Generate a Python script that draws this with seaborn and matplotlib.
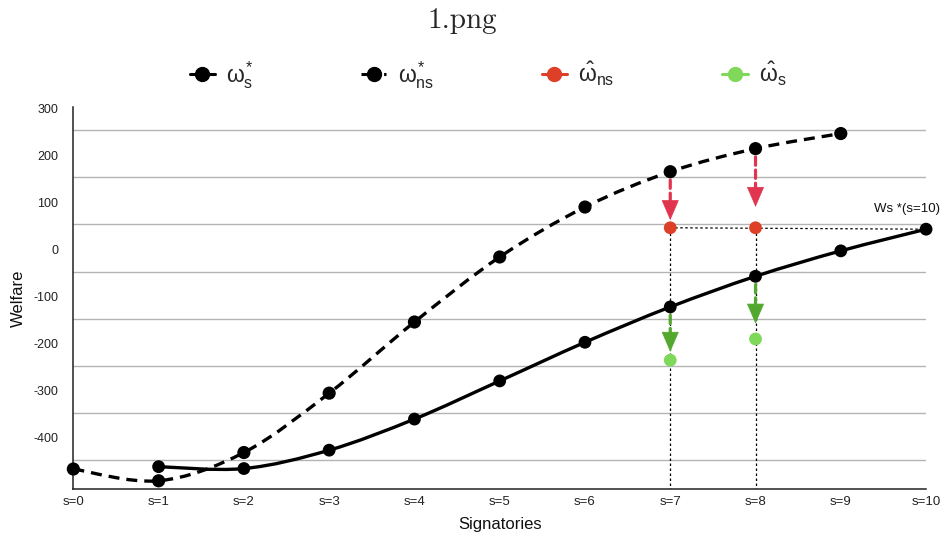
import numpy as np
import matplotlib
matplotlib.use("Agg")
import matplotlib.pyplot as plt
import seaborn as sns
from matplotlib.path import Path
from matplotlib.patches import PathPatch
from matplotlib.lines import Line2D

# ---------------- data ----------------
signatories = list(range(11))
x_tick_labels = [f"s={i}" for i in signatories]
y_tick_values = [300, 200, 100, 0, -100, -200, -300, -400]
grid_values = [253, 153, 53, -47, -147, -247, -347, -447]

ws_star_x = [1, 2, 3, 4, 5, 6, 7, 8, 9, 10]
ws_star = [-461, -465, -426, -360, -279, -197, -122, -57, -3, 43]

wns_star_x = [0, 1, 2, 3, 4, 5, 6, 7, 8, 9]
wns_star = [-466, -491, -431, -305, -154, -16, 90, 165, 214, 246]

hat_x = [7, 8]
wns_hat = [46, 46]
ws_hat = [-235, -190]

ws10_label = "Ws *(s=10)"
legend_labels = [r"$\omega^{*}_{s}$", r"$\omega^{*}_{ns}$",
                 r"$\hat{\omega}_{ns}$", r"$\hat{\omega}_{s}$"]

# ---------------- style ----------------
sns.set_style("white")
plt.rcParams["font.family"] = ["Liberation Sans", "DejaVu Sans"]
plt.rcParams["axes.unicode_minus"] = False
plt.rcParams["mathtext.fontset"] = "custom"
plt.rcParams["mathtext.rm"] = "Liberation Sans"
plt.rcParams["mathtext.it"] = "Liberation Sans"
plt.rcParams["mathtext.bf"] = "Liberation Sans:bold"

RED_ARROW = "#e0344f"
RED_DOT = "#de3f27"
GREEN_ARROW = "#52a82e"
GREEN_DOT = "#7fd85a"

fig = plt.figure(figsize=(9.44, 5.41), dpi=100)
ax = fig.add_axes([0.0777, 0.0956, 0.9033, 0.7072])
ax.set_xlim(0, 10)
ax.set_ylim(-509, 303)


def smooth_path(xs, ys):
    pts = np.column_stack([xs, ys]).astype(float)
    n = len(pts)
    verts = [pts[0]]
    codes = [Path.MOVETO]
    for i in range(n - 1):
        p0 = pts[max(i - 1, 0)]
        p1 = pts[i]
        p2 = pts[i + 1]
        p3 = pts[min(i + 2, n - 1)]
        c1 = p1 + (p2 - p0) / 6.0
        c2 = p2 - (p3 - p1) / 6.0
        verts += [c1, c2, p2]
        codes += [Path.CURVE4] * 3
    return Path(verts, codes)


# grid lines
ax.set_yticks(y_tick_values)
ax.set_yticks(grid_values, minor=True)
ax.grid(which="minor", axis="y", color="#b4b4b4", lw=1.0)
ax.grid(which="major", visible=False)
ax.tick_params(axis="y", which="both", length=0, pad=11, labelsize=9,
               labelcolor="#222222")

ax.set_xticks(signatories)
ax.set_xticklabels(x_tick_labels)
ax.tick_params(axis="x", which="major", direction="inout", length=6,
               width=1, color="#333333", pad=2, labelsize=9.5,
               labelcolor="#222222")

for side in ["top", "right"]:
    ax.spines[side].set_visible(False)
for side in ["left", "bottom"]:
    ax.spines[side].set_color("#222222")
    ax.spines[side].set_linewidth(1.1)

# dotted guide lines
ax.plot([hat_x[0], ws_star_x[-1]], [wns_hat[0], ws_star[-1]],
        color="black", lw=0.9, ls=(0, (2, 2)), zorder=2)
for xv, yv in zip(hat_x, wns_hat):
    ax.plot([xv, xv], [yv, -509], color="black", lw=0.9,
            ls=(0, (2, 2)), zorder=2)

# curves
ax.add_patch(PathPatch(smooth_path(ws_star_x, ws_star), fill=False,
                       edgecolor="black", lw=2.4, zorder=3))
ax.add_patch(PathPatch(smooth_path(wns_star_x, wns_star), fill=False,
                       edgecolor="black", lw=2.4, ls=(0, (3.3, 2.1)),
                       zorder=3))

# arrows: dashed shaft + solid head
HEAD_LEN = 13.5  # points


def drop_arrow(xv, y_from, y_to, color, shrink_a, shrink_b):
    ax.annotate("", xy=(xv, y_to), xytext=(xv, y_from),
                arrowprops=dict(arrowstyle="-", color=color, lw=2.3,
                                ls=(0, (2.6, 1.5)), shrinkA=shrink_a,
                                shrinkB=shrink_b + HEAD_LEN - 1),
                zorder=4)
    ax.annotate("", xy=(xv, y_to), xytext=(0, HEAD_LEN + shrink_b),
                textcoords="offset points",
                arrowprops=dict(arrowstyle="-|>,head_length=%g,head_width=5.8"
                                % HEAD_LEN,
                                mutation_scale=1, color=color, lw=0.5,
                                shrinkA=0, shrinkB=shrink_b),
                zorder=4)


shrink_b_red = [5.5, 15]
shrink_b_green = [6, 11]
for i, xv in enumerate(hat_x):
    drop_arrow(xv, wns_star[xv], wns_hat[i], RED_ARROW, 6, shrink_b_red[i])
    drop_arrow(xv, ws_star[xv - 1], ws_hat[i], GREEN_ARROW, 6,
               shrink_b_green[i])

# points
sns.scatterplot(x=wns_star_x, y=wns_star, color="black", s=90,
                edgecolor="none", ax=ax, zorder=5, clip_on=False)
sns.scatterplot(x=ws_star_x, y=ws_star, color="black", s=85,
                edgecolor="none", ax=ax, zorder=5, clip_on=False)
sns.scatterplot(x=hat_x, y=wns_hat, color=RED_DOT, s=85,
                edgecolor="none", ax=ax, zorder=5)
sns.scatterplot(x=hat_x, y=ws_hat, color=GREEN_DOT, s=85,
                edgecolor="none", ax=ax, zorder=5)

ax.annotate(ws10_label, xy=(ws_star_x[-1], ws_star[-1]),
            xytext=(10, 10), textcoords="offset points",
            ha="right", va="bottom", fontsize=9.5, color="#111111")

ax.set_xlabel("Signatories", fontsize=12, color="#111111")
ax.set_ylabel("Welfare", fontsize=12, color="#111111")
ax.xaxis.set_label_coords(0.5, -0.072)
ax.yaxis.set_label_coords(-0.0555, 0.5)

# legend
handles = [
    Line2D([0], [0], color="black", lw=2.2, marker="o", ms=10),
    Line2D([0], [0], color="black", lw=2.2, ls=(0, (2.5, 1.2)), marker="o", ms=10),
    Line2D([0], [0], color=RED_DOT, lw=2.2, marker="o", ms=10),
    Line2D([0], [0], color=GREEN_DOT, lw=2.2, marker="o", ms=10),
]
fig.legend(handles, legend_labels, loc="center", ncol=4, frameon=False,
           bbox_to_anchor=(0.517, 0.862), fontsize=16.5, handlelength=1.1,
           handletextpad=0.5, columnspacing=4.7)

fig.text(0.49, 0.962, "1.png", family="cmr10", fontsize=21, ha="center",
         va="center")

fig.savefig("out.png", dpi=100)
